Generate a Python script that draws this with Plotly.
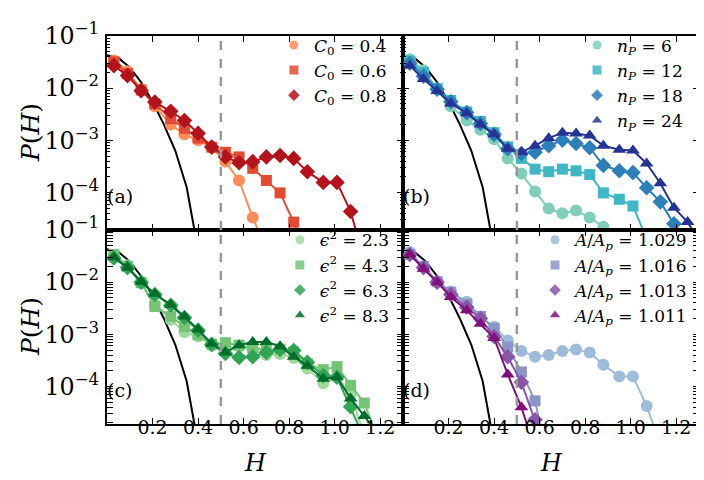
import plotly.graph_objects as go
from plotly.subplots import make_subplots

# bin centres of the histograms (H)
H_BINS = [0.03, 0.09, 0.15, 0.21, 0.28, 0.34, 0.40, 0.46, 0.52, 0.58, 0.64,
          0.70, 0.76, 0.82, 0.88, 0.95, 1.01, 1.07, 1.13, 1.19, 1.25, 1.31]

# reference curve (black) drawn in every panel
REF_H = [0.0, 0.05, 0.10, 0.15, 0.20, 0.25, 0.30, 0.35, 0.385]
REF_P = [0.043, 0.038, 0.025, 0.013, 0.0055, 0.0020, 6.3e-4, 1.26e-4, 1.8e-5]

# (a) spontaneous curvature
C0_LABELS = ["0.4", "0.6", "0.8"]
C0_04 = [0.034, 0.021, 0.0095, 0.0045, 0.0020, 0.0013, 1.0e-3, 7.2e-4, 3.9e-4,
         1.7e-4, 3.3e-5, 8e-6]
C0_06 = [0.032, 0.019, 0.0092, 0.0050, 0.0026, 0.0017, 1.1e-3, 7.4e-4, 5.9e-4,
         4.8e-4, 2.9e-4, 1.7e-4, 9.8e-5, 2.7e-5, 6e-6]
C0_08 = [0.027, 0.0174, 0.0089, 0.0054, 0.0036, 0.0024, 1.36e-3, 7.4e-4, 4.8e-4,
         3.7e-4, 3.9e-4, 4.8e-4, 5.1e-4, 4.5e-4, 2.5e-4, 1.56e-4, 1.56e-4,
         4.3e-5, 5e-6]

# (b) number of proteins
NP_LABELS = ["6", "12", "18", "24"]
NP_6 = [0.036, 0.022, 0.0095, 0.0045, 0.0024, 0.0016, 1.05e-3, 4.5e-4, 2.3e-4,
        1.04e-4, 4.9e-5, 4.0e-5, 4.5e-5, 3.3e-5, 2.2e-5, 8e-6]
NP_12 = [0.033, 0.020, 0.0098, 0.0058, 0.0035, 0.0023, 1.4e-3, 7.5e-4, 4.5e-4,
         2.8e-4, 2.5e-4, 2.8e-4, 2.6e-4, 2.2e-4, 9.8e-5, 7.4e-5, 5.5e-5, 1.3e-5]
NP_18 = [0.030, 0.017, 0.0095, 0.0055, 0.0034, 0.0021, 1.3e-3, 6.9e-4, 5.6e-4,
         5.9e-4, 7.9e-4, 1.0e-3, 8.7e-4, 7.2e-4, 3.3e-4, 2.6e-4, 2.4e-4,
         1.23e-4, 6.6e-5, 2.5e-5, 1.2e-5]
NP_24 = [0.027, 0.015, 0.0088, 0.0051, 0.0033, 0.0020, 1.3e-3, 6.9e-4, 5.9e-4,
         7.9e-4, 1.1e-3, 1.4e-3, 1.35e-3, 1.23e-3, 7.9e-4, 6.6e-4, 6.4e-4,
         3.6e-4, 1.5e-4, 5.1e-5, 2.7e-5, 1e-5]

# (c) epsilon^2
EPS_LABELS = ["2.3", "4.3", "6.3", "8.3"]
EPS_23 = [0.033, 0.021, 0.0095, 0.0038, 0.0019, 1.1e-3, 9.1e-4, 6.0e-4, 5.5e-4,
          5.8e-4, 5.0e-4, 4.0e-4, 4.2e-4, 3.5e-4, 2.2e-4, 1.15e-4, 1.6e-4,
          6.8e-5, 1.2e-5]
EPS_43 = [0.034, 0.020, 0.0098, 0.0034, 0.0022, 1.4e-3, 9.8e-4, 6.5e-4, 6.9e-4,
          6.2e-4, 5.5e-4, 5.0e-4, 5.2e-4, 4.6e-4, 2.7e-4, 2.1e-4, 2.4e-4,
          1.05e-4, 4.8e-5, 1e-5]
EPS_63 = [0.029, 0.019, 0.0100, 0.0058, 0.0036, 0.0021, 1.2e-3, 6.4e-4, 4.3e-4,
          3.6e-4, 3.7e-4, 4.5e-4, 5.1e-4, 4.9e-4, 2.9e-4, 1.6e-4, 1.5e-4,
          4.1e-5, 1e-5]
EPS_83 = [0.030, 0.019, 0.0102, 0.0060, 0.0037, 0.0022, 1.23e-3, 6.6e-4, 4.5e-4,
          6.2e-4, 7.1e-4, 7.1e-4, 5.9e-4, 3.7e-4, 2.5e-4, 1.4e-4, 1.5e-4,
          5.9e-5, 2.7e-5, 1.2e-5]

# (d) excess area
AREA_LABELS = ["1.029", "1.016", "1.013", "1.011"]
AREA_1029 = [0.038, 0.020, 0.0102, 0.0066, 0.0042, 0.0022, 1.4e-3, 7.6e-4,
             4.8e-4, 3.7e-4, 4.0e-4, 4.8e-4, 5.1e-4, 4.5e-4, 2.6e-4, 1.56e-4,
             1.56e-4, 4.2e-5, 8e-6]
AREA_1016 = [0.034, 0.020, 0.0102, 0.0064, 0.0038, 0.0022, 1.3e-3, 5.7e-4,
             1.9e-4, 5.3e-5, 3e-6]
AREA_1013 = [0.034, 0.019, 0.0100, 0.0058, 0.0033, 0.0020, 9.1e-4, 3.7e-4,
             1.2e-4, 2.3e-5, 4e-6]
AREA_1011 = [0.034, 0.018, 0.0100, 0.0052, 0.0029, 0.0016, 8.5e-4, 1.7e-4,
             4.0e-5, 6e-6]

X_TICKS = [0.2, 0.4, 0.6, 0.8, 1.0, 1.2]
SYMBOLS = ["circle", "square", "diamond", "triangle-up"]
SIZES = [12, 11, 12, 12]
FONT = "DejaVu Serif"

panels = [
    (1, 1, "legend", [C0_04, C0_06, C0_08],
     ["#fc8d59", "#e34a33", "#b3141c"],
     [f"<i>C</i><sub>0</sub> = {v}" for v in C0_LABELS]),
    (1, 2, "legend2", [NP_6, NP_12, NP_18, NP_24],
     ["#7fcdbb", "#41b6c4", "#2c7fb8", "#253494"],
     [f"<i>n</i><sub><i>P</i></sub> = {v}" for v in NP_LABELS]),
    (2, 1, "legend3", [EPS_23, EPS_43, EPS_63, EPS_83],
     ["#a1d99b", "#74c476", "#31a354", "#006d2c"],
     [f"<i>ϵ</i><sup>2</sup> = {v}" for v in EPS_LABELS]),
    (2, 2, "legend4", [AREA_1029, AREA_1016, AREA_1013, AREA_1011],
     ["#9ebcda", "#8c96c6", "#8856a7", "#810f7c"],
     [f"<i>A</i>/<i>A</i><sub><i>p</i></sub> = {v}" for v in AREA_LABELS]),
]

fig = make_subplots(rows=2, cols=2, shared_xaxes=True, shared_yaxes=True,
                    horizontal_spacing=0, vertical_spacing=0)

for row, col, leg, series, colors, names in panels:
    fig.add_trace(go.Scatter(x=REF_H, y=REF_P, mode="lines",
                             line=dict(color="black", width=2),
                             showlegend=False, hoverinfo="skip"),
                  row=row, col=col)
    for i, vals in enumerate(series):
        fig.add_trace(go.Scatter(
            x=H_BINS[:len(vals)], y=vals, mode="lines+markers",
            line=dict(color=colors[i], width=2),
            marker=dict(symbol=SYMBOLS[i], size=SIZES[i], color=colors[i],
                        line=dict(width=0)),
            showlegend=False), row=row, col=col)
    # legend-only entries (marker without line, like the original)
    for i, name in enumerate(names):
        fig.add_trace(go.Scatter(
            x=[None], y=[None], mode="markers", name=name, legend=leg,
            marker=dict(symbol=SYMBOLS[i], size=9, color=colors[i], opacity=0.85,
                        line=dict(width=0))), row=row, col=col)
    fig.add_vline(x=0.5, line=dict(color="#999999", width=2.5, dash="dash"),
                  row=row, col=col)

# panel tags
for xa, ya, tag in [(-0.004, 0.553, "(a)"), (0.496, 0.553, "(b)"),
                    (-0.004, 0.053, "(c)"), (0.496, 0.053, "(d)")]:
    fig.add_annotation(x=xa, y=ya, xref="paper", yref="paper", text=tag,
                       showarrow=False, xanchor="left", yanchor="bottom",
                       font=dict(family=FONT, size=19, color="black"))

# axis titles
for yc in [0.75, 0.25]:
    fig.add_annotation(x=-0.13, y=yc, xref="paper", yref="paper",
                       text="<i>P</i>(<i>H</i>)", textangle=-90, showarrow=False,
                       xanchor="center", yanchor="middle",
                       font=dict(family=FONT, size=25, color="black"))
for xc in [0.25, 0.75]:
    fig.add_annotation(x=xc, y=-0.10, xref="paper", yref="paper",
                       text="<i>H</i>", showarrow=False,
                       xanchor="center", yanchor="middle",
                       font=dict(family=FONT, size=24, color="black"))

axis_common = dict(showline=True, linewidth=2, linecolor="black", mirror="allticks",
                   ticks="inside", ticklen=6, tickwidth=1.2, tickcolor="black",
                   showgrid=False, zeroline=False,
                   tickfont=dict(family=FONT, size=19, color="black"))
fig.update_xaxes(range=[0, 1.3], tickvals=X_TICKS, showticklabels=False,
                 **axis_common)
fig.update_yaxes(type="log", range=[-4.72, -1], dtick=1, exponentformat="power",
                 ticklabelstandoff=2,
                 minor=dict(ticks="inside", ticklen=3, tickcolor="black", dtick="D1"),
                 **axis_common)

# tick labels of the bottom row sit on free overlaying axes, a bit closer to the frame
for name, ref, base, ybase in [("xaxis5", "x5", "x3", "y3"),
                               ("xaxis6", "x6", "x4", "y4")]:
    fig.layout[name] = dict(overlaying=base, matches=base, anchor="free",
                            position=0.027, showline=False, ticks="",
                            showgrid=False, zeroline=False, tickvals=X_TICKS,
                            ticktext=[f"{v:.1f}" for v in X_TICKS],
                            tickfont=dict(family=FONT, size=19, color="black"))
    fig.add_trace(go.Scatter(x=[None], y=[None], xaxis=ref, yaxis=ybase,
                             showlegend=False, hoverinfo="skip"))

leg_common = dict(yanchor="top", xanchor="left", bgcolor="rgba(0,0,0,0)",
                  font=dict(family=FONT, size=17, color="black"),
                  tracegroupgap=0, itemwidth=30)
fig.update_layout(
    width=704, height=480,
    margin=dict(l=99, r=11, t=23, b=64),
    plot_bgcolor="white", paper_bgcolor="white",
    legend=dict(x=0.282, y=1.022, **leg_common),
    legend2=dict(x=0.794, y=1.022, **leg_common),
    legend3=dict(x=0.292, y=0.52, **leg_common),
    legend4=dict(x=0.723, y=0.52, **leg_common),
)

fig.write_html("out.html")
